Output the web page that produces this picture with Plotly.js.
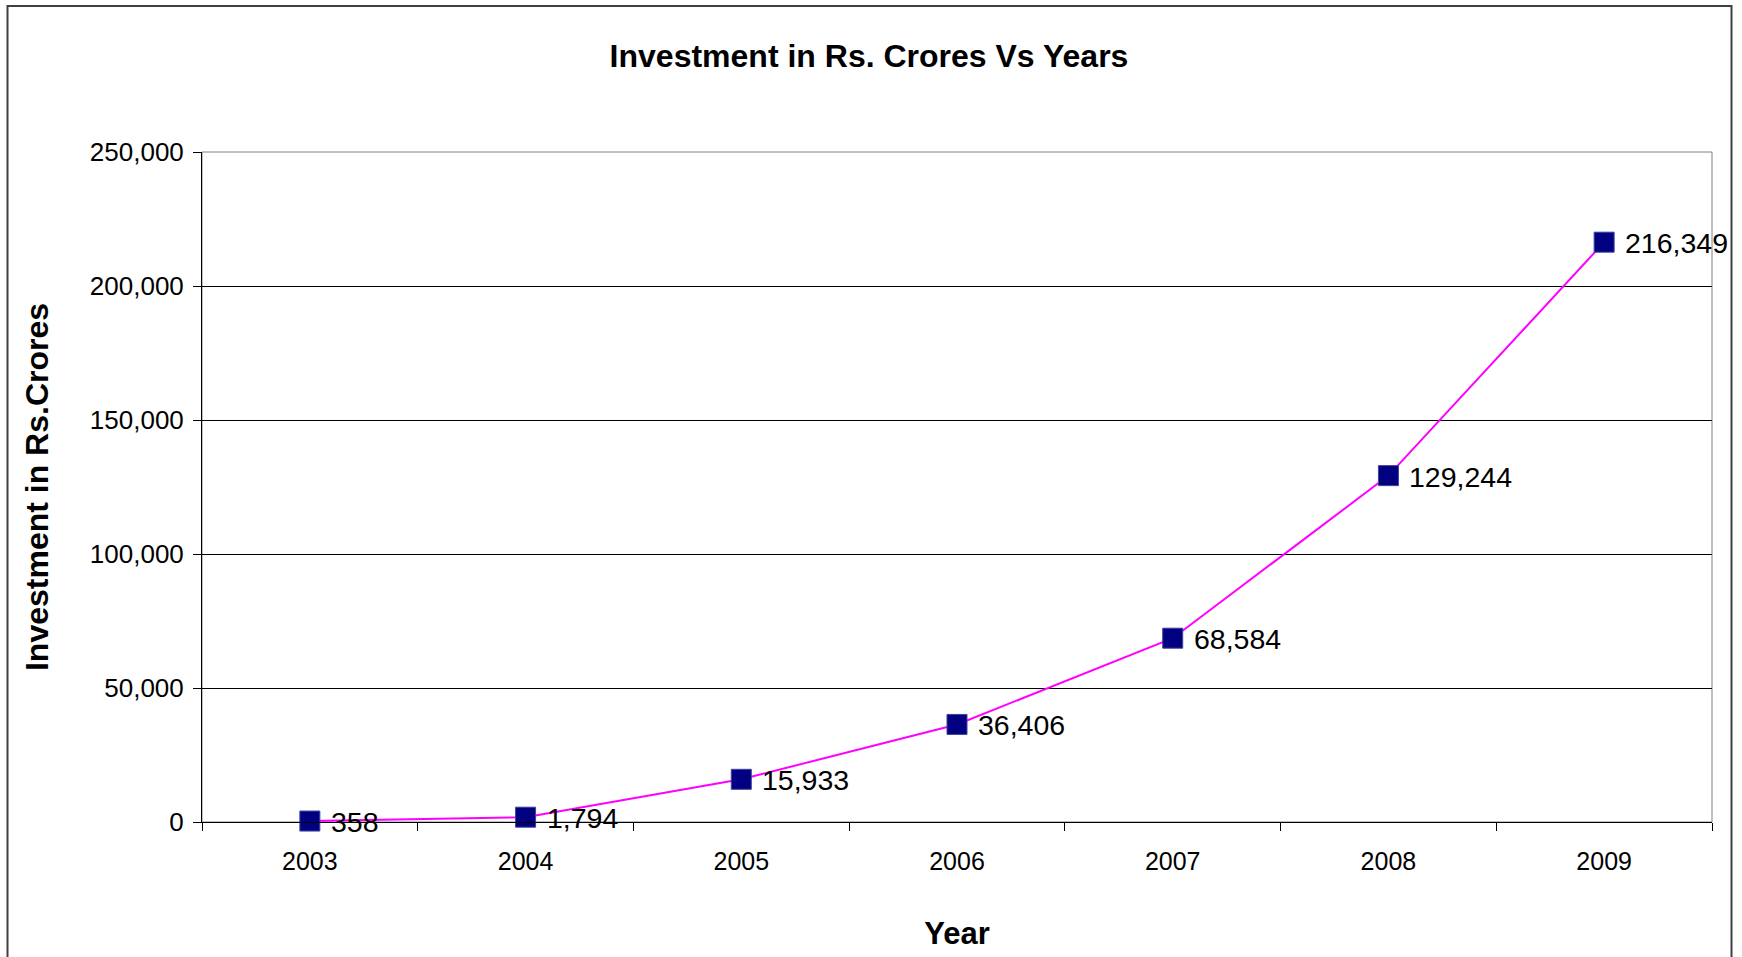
<!DOCTYPE html>
<html>
<head>
<meta charset="utf-8">
<script src="https://cdn.plot.ly/plotly-3.0.1.min.js"></script>
<style>
  html, body { margin: 0; padding: 0; background: #ffffff; }
  #chart { width: 1742px; height: 957px; }
</style>
</head>
<body>
<div id="chart"></div>
<script>
// Data
const years = ["2003", "2004", "2005", "2006", "2007", "2008", "2009"];
const investment = [358, 1794, 15933, 36406, 68584, 129244, 216349];
const yTickValues = [0, 50000, 100000, 150000, 200000, 250000];

const chartTitle = "Investment in Rs. Crores Vs Years";
const xTitle = "Year";
const yTitle = "Investment in Rs.Crores";

const FONT = "Liberation Sans, Arial, Helvetica, sans-serif";

function withCommas(v) {
  return String(v).replace(/\B(?=(\d{3})+(?!\d))/g, ",");
}

const trace = {
  type: "scatter",
  mode: "lines+markers",
  x: years,
  y: investment,
  line: { color: "#ff00ff", width: 2 },
  marker: {
    symbol: "square",
    size: 20,
    color: "#000080",
    line: { color: "#4040a0", width: 1 }
  },
  cliponaxis: false,
  hoverinfo: "x+y",
  showlegend: false
};

// Data labels to the right of each marker, built from the data arrays
const dataLabels = investment.map((v, i) => ({
  x: i,
  y: v,
  xref: "x",
  yref: "y",
  text: withCommas(v),
  showarrow: false,
  xanchor: "left",
  yanchor: "middle",
  xshift: 19,
  yshift: -1,
  font: { family: FONT, size: 28.5, color: "#000000" }
}));

const layout = {
  width: 1742,
  height: 957,
  paper_bgcolor: "#ffffff",
  plot_bgcolor: "#ffffff",
  font: { family: FONT, color: "#000000" },
  margin: { l: 202, r: 30, t: 152, b: 135, pad: 0 },
  title: {
    text: "<b>" + chartTitle + "</b>",
    font: { family: FONT, size: 32, color: "#000000" },
    x: 869 / 1742,
    xanchor: "center",
    xref: "container",
    y: 1 - 56 / 957,
    yanchor: "middle",
    yref: "container"
  },
  xaxis: {
    type: "category",
    range: [-0.5, 6.5],
    tickson: "boundaries",
    ticks: "outside",
    ticklen: 8,
    tickwidth: 1,
    tickcolor: "#000000",
    showline: true,
    linecolor: "#000000",
    linewidth: 1,
    showgrid: false,
    zeroline: false,
    tickfont: { family: FONT, size: 25, color: "#000000" },
    ticklabelstandoff: 17,
    title: {
      text: "<b>" + xTitle + "</b>",
      font: { family: FONT, size: 31, color: "#000000" },
      standoff: 48
    },
    automargin: false,
    fixedrange: true
  },
  yaxis: {
    range: [0, 250000],
    tickvals: yTickValues,
    tickformat: ",d",
    ticks: "outside",
    ticklen: 8,
    tickwidth: 1,
    tickcolor: "#000000",
    showline: true,
    linecolor: "#000000",
    linewidth: 1,
    showgrid: true,
    gridcolor: "#000000",
    gridwidth: 1,
    zeroline: false,
    tickfont: { family: FONT, size: 26, color: "#000000" },
    ticklabelstandoff: 4,
    title: {
      text: "<b>" + yTitle + "</b>",
      font: { family: FONT, size: 32, color: "#000000" },
      standoff: 31
    },
    automargin: false,
    fixedrange: true
  },
  annotations: dataLabels,
  shapes: [
    {
      type: "rect", xref: "paper", yref: "paper", layer: "below",
      x0: 0, x1: 1, y0: 0, y1: 1,
      line: { color: "#808080", width: 1 }, fillcolor: "rgba(0,0,0,0)"
    },
    {
      type: "rect", xref: "paper", yref: "paper", layer: "below",
      x0: (7.5 - 202) / 1510, x1: (1731.5 - 202) / 1510,
      y0: (822 - 975) / 670, y1: (822 - 6) / 670,
      line: { color: "#404040", width: 2 }, fillcolor: "rgba(0,0,0,0)"
    }
  ]
};

Plotly.newPlot("chart", [trace], layout, { displayModeBar: false, staticPlot: true });
</script>
</body>
</html>
